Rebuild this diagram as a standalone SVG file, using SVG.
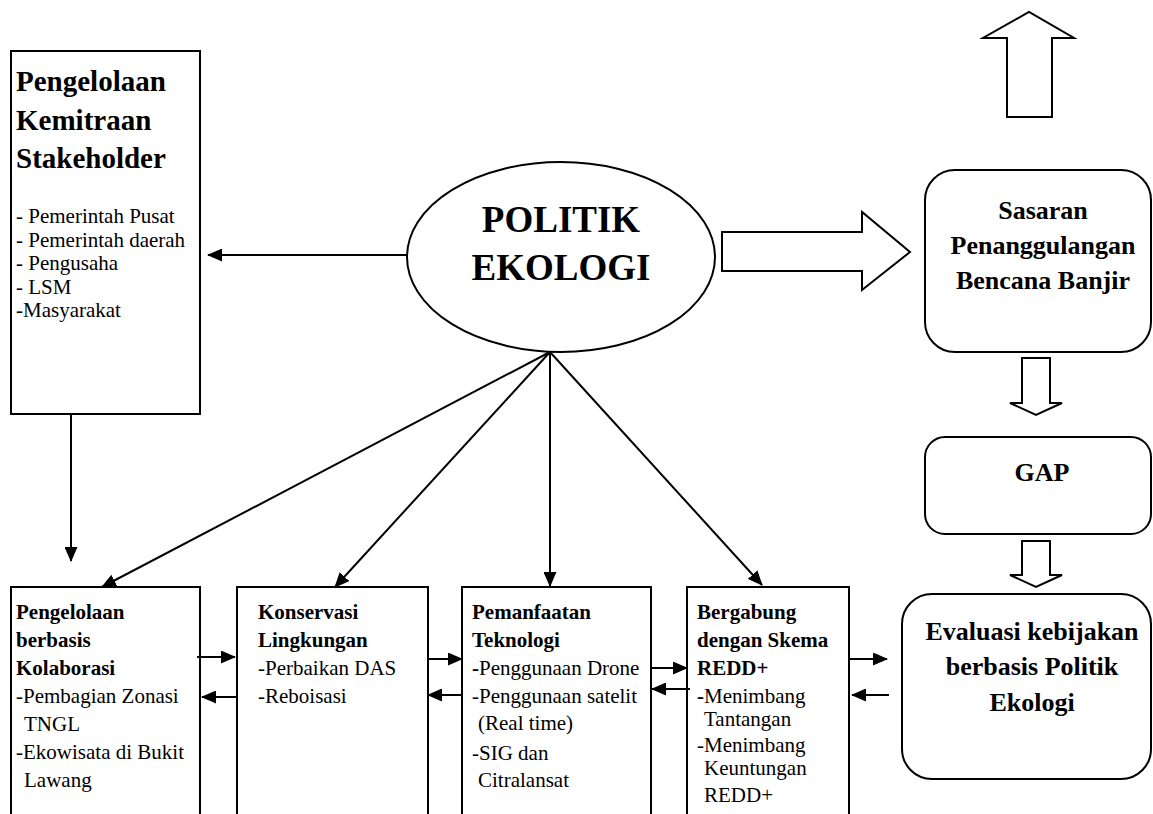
<svg xmlns="http://www.w3.org/2000/svg" width="1153" height="814" viewBox="0 0 1153 814">
<style>
.box{fill:#fff;stroke:#000;stroke-width:2}
.blk{fill:#fff;stroke:#000;stroke-width:2;stroke-linejoin:miter}
.ln{stroke:#000;stroke-width:2;fill:none;marker-end:url(#ah)}
text{font-family:"Liberation Serif","Times New Roman",serif;fill:#000}
.b{font-weight:bold}
.s{font-size:21px}
.h{font-size:29px;font-weight:bold}
.c{text-anchor:middle;font-weight:bold;font-size:26px}
</style>
<defs>
<marker id="ah" viewBox="0 0 15 13" refX="14" refY="6.5" markerWidth="15" markerHeight="13" markerUnits="userSpaceOnUse" orient="auto">
<path d="M0,0 L15,6.5 L0,13 z" fill="#000"/>
</marker>
</defs>
<rect width="1153" height="814" fill="#fff"/>

<g id="stakeholder">
<rect class="box" x="11" y="51" width="189" height="363"/>
<text class="h" x="16" y="91">Pengelolaan</text>
<text class="h" x="16" y="130">Kemitraan</text>
<text class="h" x="16" y="168">Stakeholder</text>
<text class="s" x="16" y="223">- Pemerintah Pusat</text>
<text class="s" x="16" y="247">- Pemerintah daerah</text>
<text class="s" x="16" y="270">- Pengusaha</text>
<text class="s" x="16" y="294">- LSM</text>
<text class="s" x="16" y="317">-Masyarakat</text>
</g>

<g id="politik">
<ellipse class="box" cx="561" cy="257" rx="154" ry="95"/>
<text x="561" y="232" text-anchor="middle" class="b" font-size="37">POLITIK</text>
<text x="561" y="280" text-anchor="middle" class="b" font-size="37">EKOLOGI</text>
</g>

<g id="sasaran">
<rect class="box" x="925" y="170" width="226" height="182" rx="30"/>
<text class="c" x="1043" y="219">Sasaran</text>
<text class="c" x="1043" y="254">Penanggulangan</text>
<text class="c" x="1043" y="289">Bencana Banjir</text>
</g>

<g id="gap">
<rect class="box" x="925" y="437" width="226" height="97" rx="20"/>
<text class="c" x="1042" y="481" font-size="28">GAP</text>
</g>

<g id="evaluasi">
<rect class="box" x="902" y="594" width="249" height="185" rx="30"/>
<text class="c" x="1032" y="640">Evaluasi kebijakan</text>
<text class="c" x="1032" y="675">berbasis Politik</text>
<text class="c" x="1032" y="711">Ekologi</text>
</g>

<g id="kolaborasi">
<rect class="box" x="11" y="587" width="189" height="240"/>
<text class="s b" x="16" y="619">Pengelolaan</text>
<text class="s b" x="16" y="647">berbasis</text>
<text class="s b" x="16" y="675">Kolaborasi</text>
<text class="s" x="16" y="703">-Pembagian Zonasi</text>
<text class="s" x="24" y="731">TNGL</text>
<text class="s" x="16" y="759">-Ekowisata di Bukit</text>
<text class="s" x="24" y="787">Lawang</text>
</g>

<g id="konservasi">
<rect class="box" x="237" y="587" width="191" height="240"/>
<text class="s b" x="258" y="619">Konservasi</text>
<text class="s b" x="258" y="647">Lingkungan</text>
<text class="s" x="258" y="675">-Perbaikan DAS</text>
<text class="s" x="258" y="703">-Reboisasi</text>
</g>

<g id="teknologi">
<rect class="box" x="462" y="587" width="189" height="240"/>
<text class="s b" x="472" y="619">Pemanfaatan</text>
<text class="s b" x="472" y="647">Teknologi</text>
<text class="s" x="472" y="675"><tspan class="b">-</tspan>Penggunaan Drone</text>
<text class="s" x="472" y="703">-Penggunaan satelit</text>
<text class="s" x="478" y="730">(Real time)</text>
<text class="s" x="472" y="760">-SIG dan</text>
<text class="s" x="478" y="787">Citralansat</text>
</g>

<g id="redd">
<rect class="box" x="687" y="587" width="162" height="240"/>
<text class="s b" x="697" y="619">Bergabung</text>
<text class="s b" x="697" y="647">dengan Skema</text>
<text class="s b" x="697" y="675">REDD+</text>
<text class="s" x="697" y="703"><tspan class="b">-</tspan>Menimbang</text>
<text class="s" x="704" y="726">Tantangan</text>
<text class="s" x="697" y="752">-Menimbang</text>
<text class="s" x="704" y="775">Keuntungan</text>
<text class="s" x="704" y="802">REDD+</text>
</g>

<g id="connectors">
<path class="blk" d="M722,232 H862 V212 L910,252 L862,290 V271 H722 Z"/>
<path class="blk" d="M1007,117 V38 H983 L1029,12 L1074,38 H1052 V117 Z"/>
<path class="blk" d="M1022,358 V403 H1010 L1036,415 L1062,403 H1050 V358 Z"/>
<path class="blk" d="M1022,541 V575 H1010 L1036,587 L1062,575 H1050 V541 Z"/>
<line class="ln" x1="407" y1="255" x2="208" y2="255"/>
<line class="ln" x1="71" y1="414" x2="71" y2="561"/>
<line class="ln" x1="550" y1="352" x2="102" y2="587"/>
<line class="ln" x1="550" y1="352" x2="335" y2="587"/>
<line class="ln" x1="550" y1="352" x2="550" y2="586"/>
<line class="ln" x1="550" y1="352" x2="762" y2="585"/>
<line class="ln" x1="197" y1="657" x2="235" y2="657"/>
<line class="ln" x1="238" y1="697" x2="202" y2="697"/>
<line class="ln" x1="427" y1="659" x2="462" y2="659"/>
<line class="ln" x1="462" y1="695" x2="428" y2="695"/>
<line class="ln" x1="652" y1="668" x2="687" y2="668"/>
<line class="ln" x1="690" y1="689" x2="652" y2="689"/>
<line class="ln" x1="850" y1="659" x2="887" y2="659"/>
<line class="ln" x1="889" y1="695" x2="852" y2="695"/>
</g>
</svg>
